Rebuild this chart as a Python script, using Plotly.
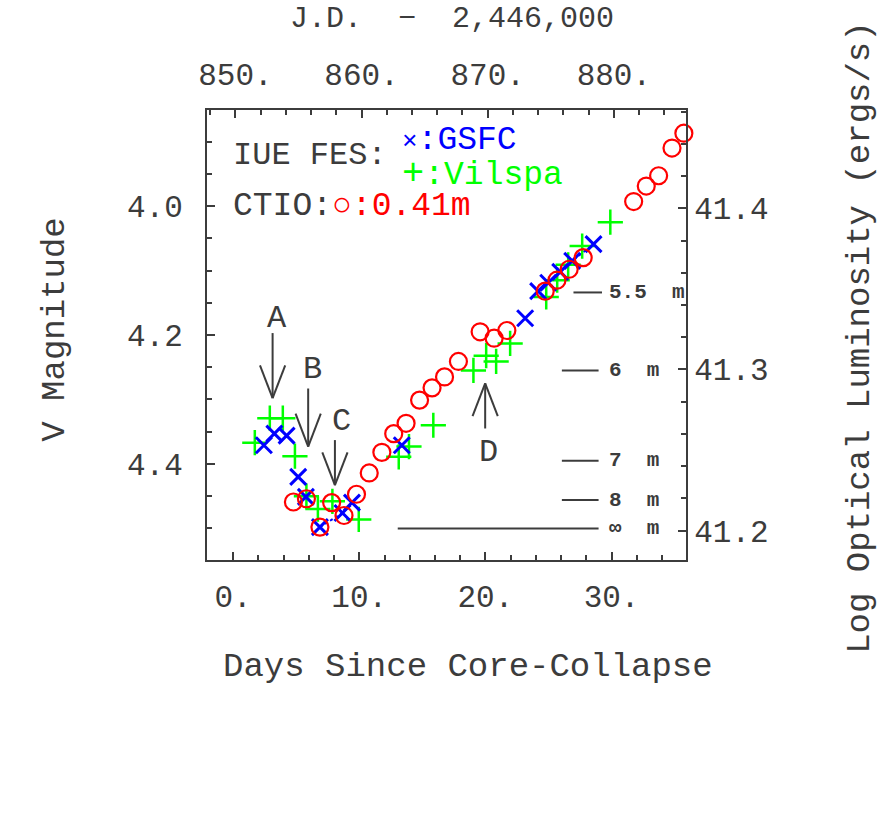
import plotly.graph_objects as go

# ---------------- data ----------------
# CTIO 0.41 m  (red open circles)
ctio_day = [4.78, 5.81, 6.88, 7.81, 8.79, 9.78, 10.79, 11.79, 12.73, 13.71, 14.78, 15.77,
            16.76, 17.86, 19.58, 20.69, 21.70, 24.74, 25.67, 26.64, 27.75, 31.75, 32.75,
            33.73, 34.79, 35.73]
ctio_mag = [4.459, 4.454, 4.498, 4.460, 4.480, 4.447, 4.414, 4.382, 4.353, 4.337, 4.301, 4.282,
            4.265, 4.241, 4.195, 4.205, 4.193, 4.132, 4.115, 4.098, 4.080, 3.993, 3.969,
            3.953, 3.910, 3.887]

# IUE FES, GSFC (blue x)
gsfc_day = [2.44, 3.27, 4.24, 5.16, 5.77, 6.88, 8.67, 9.42, 13.37, 23.15, 24.18, 24.98,
            25.93, 26.88, 28.57]
gsfc_mag = [4.371, 4.353, 4.356, 4.420, 4.451, 4.498, 4.476, 4.460, 4.371, 4.174, 4.132, 4.119,
            4.102, 4.085, 4.059]

# IUE FES, Vilspa (green +)
vilspa_day = [1.72, 2.91, 3.94, 4.90, 5.81, 6.72, 7.87, 9.96, 13.13, 13.94, 15.87, 19.05,
              20.06, 20.85, 21.96, 24.82, 25.69, 26.56, 27.67, 29.90]
vilspa_mag = [4.367, 4.329, 4.329, 4.388, 4.450, 4.470, 4.458, 4.486, 4.389, 4.373, 4.340, 4.255,
              4.232, 4.241, 4.213, 4.141, 4.115, 4.091, 4.062, 4.025]

# GSFC points joined by a dotted line (index ranges)
gsfc_dotted_segments = [(5, 8), (10, 15)]

# light-echo / distance ruler on the right
ruler_labels = ["5.5  m", "6  m", "7  m", "8  m", "∞  m"]
ruler_mag = [4.134, 4.255, 4.395, 4.456, 4.500]
ruler_x0 = [26.98, 26.06, 26.06, 26.06, 13.05]
ruler_x1 = [29.24, 28.97, 28.97, 28.97, 28.97]

# epochs marked with arrows
arrow_labels = ["A", "B", "C", "D"]
arrow_x = [3.13, 5.95, 8.07, 19.98]
arrow_tail = [4.197, 4.283, 4.363, 4.345]
arrow_tip = [4.298, 4.373, 4.433, 4.275]
arrow_label_x = [3.49, 6.30, 8.60, 20.24]
arrow_label_y = [4.174, 4.254, 4.334, 4.383]

JD_OFFSET = 849.82      # JD - 2,446,000 at core collapse
L_ZERO = 43.0014        # log L = L_ZERO - 0.4 V

X_RANGE = [-2.07, 35.9]
Y_RANGE = [4.549, 3.851]

INK = "#3c3c3c"
FONT = "Liberation Mono"
RED, BLUE, GREEN = "#ff0000", "#0000ff", "#00ff00"

fig = go.Figure()

# dotted GSFC line
dx, dy = [], []
for a, b in gsfc_dotted_segments:
    dx += gsfc_day[a:b] + [None]
    dy += gsfc_mag[a:b] + [None]
fig.add_trace(go.Scatter(x=dx, y=dy, mode="lines",
                         line=dict(color=BLUE, width=2, dash="dot"),
                         hoverinfo="skip", showlegend=False))

fig.add_trace(go.Scatter(x=vilspa_day, y=vilspa_mag, mode="markers",
                         marker=dict(symbol="cross-thin-open", size=18, color=GREEN,
                                     line=dict(color=GREEN, width=2.5)),
                         cliponaxis=False, showlegend=False))
fig.add_trace(go.Scatter(x=gsfc_day, y=gsfc_mag, mode="markers",
                         marker=dict(symbol="x-thin-open", size=16, color=BLUE,
                                     line=dict(color=BLUE, width=3)),
                         cliponaxis=False, showlegend=False))
fig.add_trace(go.Scatter(x=ctio_day, y=ctio_mag, mode="markers",
                         marker=dict(symbol="circle-open", size=17, color=RED,
                                     line=dict(color=RED, width=2.2)),
                         cliponaxis=False, showlegend=False))

# invisible trace to carry the J.D. / luminosity axes
fig.add_trace(go.Scatter(x=[d + JD_OFFSET for d in ctio_day],
                         y=[L_ZERO - 0.4 * m for m in ctio_mag],
                         xaxis="x2", yaxis="y2", mode="markers",
                         marker=dict(opacity=0), hoverinfo="skip", showlegend=False))

# ruler lines + labels
for lab, m, x0, x1 in zip(ruler_labels, ruler_mag, ruler_x0, ruler_x1):
    fig.add_shape(type="line", x0=x0, x1=x1, y0=m, y1=m, xref="x", yref="y",
                  line=dict(color=INK, width=2))
    fig.add_annotation(x=29.63, y=m, xref="x", yref="y", text="<b>" + lab + "</b>",
                       showarrow=False, xanchor="left", yanchor="middle",
                       font=dict(family=FONT, size=21, color=INK))

# arrows
HW, HL = 1.0, 0.051
for lab, x, t, p, lx, ly in zip(arrow_labels, arrow_x, arrow_tail, arrow_tip,
                                arrow_label_x, arrow_label_y):
    sgn = 1 if p > t else -1
    fig.add_shape(type="line", x0=x, x1=x, y0=t, y1=p, line=dict(color=INK, width=2))
    fig.add_shape(type="line", x0=x - HW, x1=x, y0=p - sgn * HL, y1=p, line=dict(color=INK, width=2))
    fig.add_shape(type="line", x0=x + HW, x1=x, y0=p - sgn * HL, y1=p, line=dict(color=INK, width=2))
    fig.add_annotation(x=lx, y=ly, text=lab, showarrow=False, xanchor="center",
                       yanchor="middle", font=dict(family=FONT, size=32, color=INK))

# legend-like text
fig.add_annotation(x=-0.13, y=3.921, text="IUE FES:", showarrow=False, xanchor="left",
                   yanchor="middle", font=dict(family=FONT, size=32, color=INK))
fig.add_annotation(x=13.2, y=3.926,
                   text=("<span style='color:#0000ff;font-size:33px'>"
                         "<span style='font-size:26px'>×</span>:GSFC</span><br>"
                         "<span style='color:#00ff00;font-size:33px'>"
                         "<span style='font-size:37px'>+</span>:Vilspa</span>"),
                   showarrow=False, xanchor="left", yanchor="middle", align="left",
                   font=dict(family=FONT, size=27, color=INK))
fig.add_annotation(x=-0.13, y=4.0,
                   text="CTIO:<span style='color:#ff0000'>○:0.41m</span>",
                   showarrow=False, xanchor="left", yanchor="middle",
                   font=dict(family=FONT, size=33, color=INK))

# axis titles
title_font = dict(family=FONT, size=34, color=INK)
fig.add_annotation(x=-0.318, y=0.511, xref="paper", yref="paper", text="V Magnitude",
                   textangle=-90, showarrow=False, xanchor="center", yanchor="middle",
                   font=title_font)
fig.add_annotation(x=1.363, y=0.4956, xref="paper", yref="paper",
                   text="Log Optical Luminosity (ergs/s)",
                   textangle=-90, showarrow=False, xanchor="center", yanchor="middle",
                   font=dict(family=FONT, size=34, color=INK))
fig.add_annotation(x=0.545, y=-0.238, xref="paper", yref="paper",
                   text="Days Since Core-Collapse", showarrow=False,
                   xanchor="center", yanchor="middle", font=title_font)
fig.add_annotation(x=0.511, y=1.2022, xref="paper", yref="paper",
                   text="J.D.  −  2,446,000", showarrow=False,
                   xanchor="center", yanchor="middle",
                   font=dict(family=FONT, size=30, color=INK))

tick_font = dict(family=FONT, size=31, color=INK)
common = dict(showgrid=False, zeroline=False, showline=True, linecolor=INK, linewidth=2,
              ticks="inside", ticklen=8, tickwidth=2, tickcolor=INK, tickfont=tick_font)
minor_common = dict(ticks="inside", ticklen=5, tickwidth=1.5, tickcolor=INK, showgrid=False)

fig.update_layout(
    width=882, height=831,
    margin=dict(l=207, r=196, t=110, b=271),
    paper_bgcolor="white", plot_bgcolor="white",
    showlegend=False,
    xaxis=dict(range=X_RANGE, tick0=0, dtick=10, ticksuffix=".",
               minor=dict(dtick=2, tick0=0, **minor_common),
               ticklabelstandoff=8, **common),
    xaxis2=dict(range=[X_RANGE[0] + JD_OFFSET, X_RANGE[1] + JD_OFFSET], overlaying="x",
                side="top", anchor="y", tick0=850, dtick=10, ticksuffix=".",
                minor=dict(dtick=2, tick0=850, **minor_common),
                ticklabelstandoff=11, **common),
    yaxis=dict(range=Y_RANGE, tick0=4.0, dtick=0.2, tickformat=".1f",
               minor=dict(dtick=0.05, tick0=4.0, **minor_common),
               ticklabelstandoff=16, **common),
    yaxis2=dict(range=[L_ZERO - 0.4 * Y_RANGE[0], L_ZERO - 0.4 * Y_RANGE[1]],
                overlaying="y", side="right", anchor="x", tick0=41.2, dtick=0.1,
                tickformat=".1f", minor=dict(dtick=0.02, tick0=41.2, **minor_common),
                ticklabelstandoff=0, **common),
)

# remove the browser's default 8 px body margin so the figure sits at the page origin
fig.write_html("out.html", config={"displayModeBar": False},
               post_script="document.body.style.margin='0px';document.body.style.overflow='hidden';")
